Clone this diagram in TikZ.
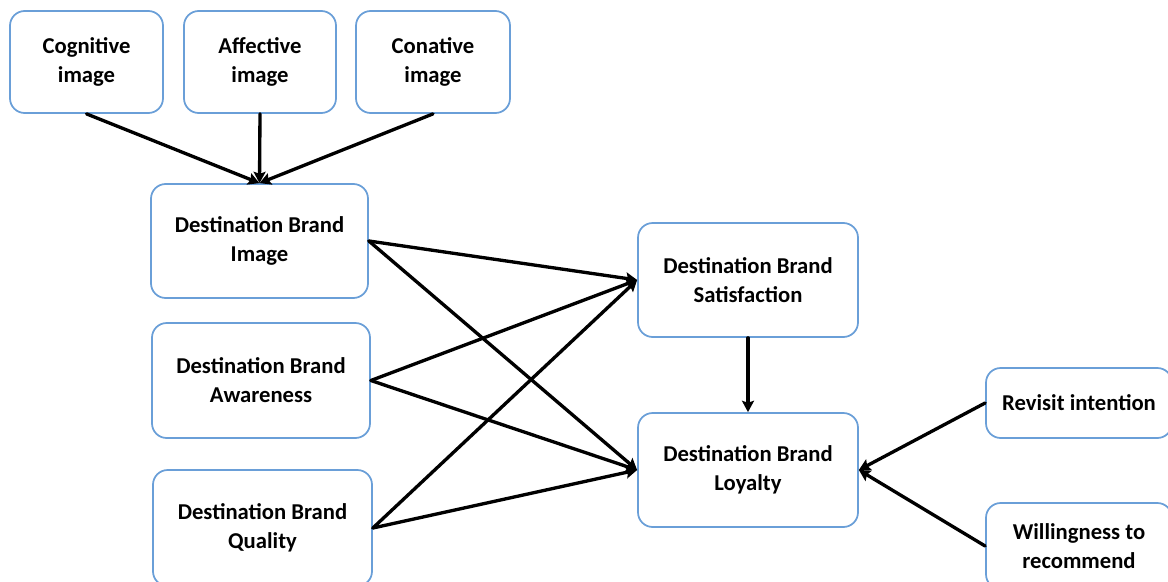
\documentclass[tikz,border=0pt]{standalone}
\usepackage{fontspec}
\setmainfont{Carlito}
\usetikzlibrary{arrows.meta}
\definecolor{boxblue}{HTML}{6A9FD8}
\begin{document}
\begin{tikzpicture}[x=0.75pt,y=-0.75pt,
  bx/.style 2 args={draw=boxblue, line width=1.3pt, rounded corners=11pt,
    fill=white, align=center, inner sep=0pt,
    minimum width=#1*0.75pt, minimum height=#2*0.75pt,
    font=\fontsize{17pt}{21.75pt}\selectfont\bfseries},
  link/.style={line width=2.5pt, line cap=round,
    -{Stealth[length=8.5pt,width=9pt,inset=1.5pt]}}]
\useasboundingbox (0,0) rectangle (1168,582);
\fill[white] (0,0) rectangle (1168,582);

% image components
\node[bx={153}{102}] (cog) at (86.5,62)  {Cognitive\\image};
\node[bx={152}{102}] (aff) at (260,62)   {Affective\\image};
\node[bx={154}{102}] (con) at (433,62)   {Conative\\image};

% brand constructs on the left
\node[bx={217}{114}] (img) at (259.5,241) {Destination Brand\\Image};
\node[bx={218}{115}] (awa) at (261,380.5) {Destination Brand\\Awareness};
\node[bx={219}{116}] (qua) at (262.5,528) {Destination Brand\\Quality};

% outcomes
\node[bx={220}{114}] (sat) at (748,280) {Destination Brand\\Satisfaction};
\node[bx={220}{114}] (loy) at (748,470) {Destination Brand\\Loyalty};

% loyalty indicators
\node[bx={186}{70}] (rev) at (1079,403)   {Revisit intention};
\node[bx={186}{86}] (wil) at (1079,546) {Willingness to\\recommend};

% connectors
\draw[link] (cog.south) -- (img.north);
\draw[link] (aff.south) -- (img.north);
\draw[link] (con.south) -- (img.north);

\draw[link] (img.east) -- (sat.west);
\draw[link] (img.east) -- (loy.west);
\draw[link] (awa.east) -- (sat.west);
\draw[link] (awa.east) -- (loy.west);
\draw[link] (qua.east) -- (sat.west);
\draw[link] (qua.east) -- (loy.west);

\draw[link] (sat.south) -- (loy.north);
\draw[link] (rev.west) -- (loy.east);
\draw[link] (wil.west) -- (loy.east);
\end{tikzpicture}
\end{document}
